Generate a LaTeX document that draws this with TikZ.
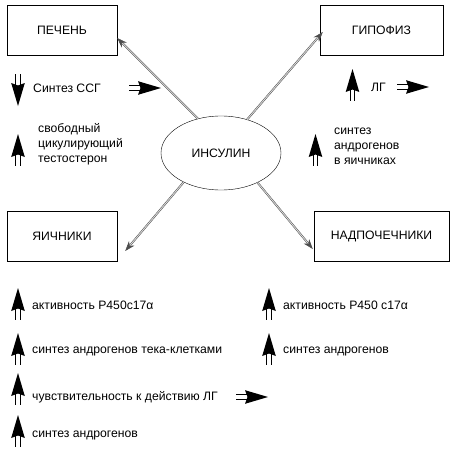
\documentclass[tikz,border=0pt]{standalone}
\usepackage{fontspec}
\setmainfont{Liberation Sans}
\usetikzlibrary{shapes,positioning,arrows.meta,calc}

\tikzset{
    % fat arrow, tip at the pic origin, pointing up
    fatarr/.pic={
        \fill (0,0) -- (-6.8,23) -- (0,20.5) -- (6.8,23) -- cycle;
        \draw[line width=1pt] (-2.2,19) -- (-2.2,32) (2.2,19) -- (2.2,32);
    }
}

\begin{document}
\begin{tikzpicture}[x=1pt, y=-1pt, font=\fontsize{12.2}{15}\selectfont,
    organ/.style={draw, rectangle, minimum height=50pt, inner sep=0pt},
    link/.style={draw=gray!60!black, double=gray!30, double distance=0.9pt, line width=0.5pt, -{Stealth[length=10pt,width=7pt]}},
    lbl/.style={anchor=west, align=left, inner sep=0pt}]
    \useasboundingbox (0,0) rectangle (456,455);

    % organs
    \node[organ, minimum width=110pt] (liver) at (62,30) {ПЕЧЕНЬ};
    \node[organ, minimum width=123pt] (pit) at (381.5,30) {ГИПОФИЗ};
    \node[organ, minimum width=110pt] (ovary) at (62,236) {ЯИЧНИКИ};
    \node[organ, minimum width=135pt] (adrenal) at (381.5,236) {НАДПОЧЕЧНИКИ};

    % insulin in the middle
    \node[draw, ellipse, minimum width=120pt, minimum height=74pt, inner sep=0pt] (ins) at (221,153) {ИНСУЛИН};

    \draw[link] (ins.124) -- ($(liver.east)+(0,8)$);
    \draw[link] (ins.52) -- ($(pit.west)+(3,2)$);
    \draw[link] (ins.218) -- ($(ovary.east)+(8,15)$);
    \draw[link] (ins.321) -- ($(adrenal.west)+(-1,13)$);

    % liver effects
    \pic[rotate=180] at (18,106) {fatarr};
    \node[lbl] (ssg) at (33,88) {Синтез ССГ};
    \pic[rotate=-90] at (161,88) {fatarr};
    \pic at (18,134) {fatarr};
    \node[lbl] (testo) at (38,144) {свободный\\цикулирующий\\тестостерон};

    % pituitary effects
    \pic at (352.5,69) {fatarr};
    \node[lbl] (lh) at (371,87) {ЛГ};
    \pic[rotate=-90] at (429,87) {fatarr};
    \pic at (315.5,134) {fatarr};
    \node[lbl] (andr) at (334,146) {синтез\\андрогенов\\в яичниках};

    % ovary effects
    \pic at (18,288) {fatarr};
    \node[lbl] (o1) at (32,305) {активность P450c17α};
    \pic at (18,333) {fatarr};
    \node[lbl] (o2) at (32,351) {синтез андрогенов тека-клетками};
    \pic at (18,373) {fatarr};
    \node[lbl] (o3) at (32,397) {чувствительность к действию ЛГ};
    \pic[rotate=-90] at (268,397) {fatarr};
    \pic at (18,415) {fatarr};
    \node[lbl] (o4) at (32,435) {синтез андрогенов};

    % adrenal effects
    \pic at (269,288) {fatarr};
    \node[lbl] (a1) at (283,305) {активность P450 c17α};
    \pic at (269,333) {fatarr};
    \node[lbl] (a2) at (283,351) {синтез андрогенов};
\end{tikzpicture}
\end{document}
